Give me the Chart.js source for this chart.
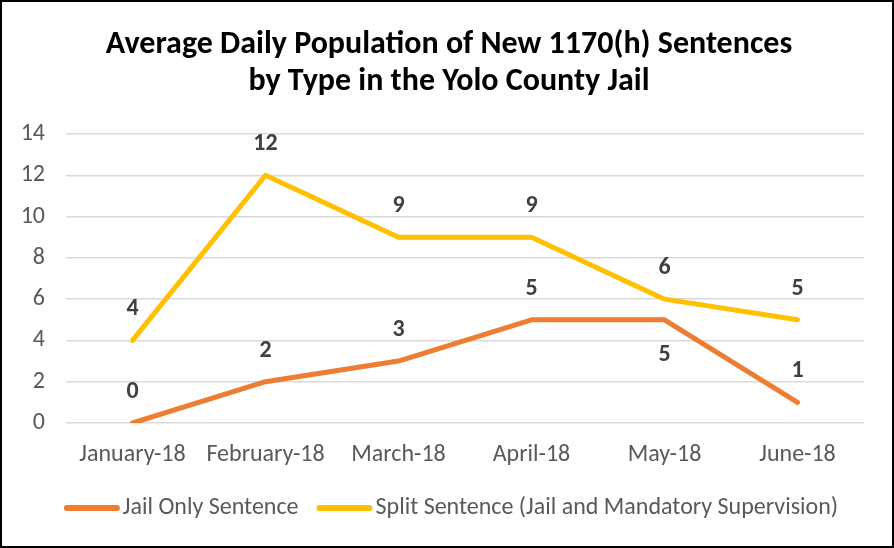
<!DOCTYPE html>
<html>
<head>
<meta charset="utf-8">
<script src="https://cdn.jsdelivr.net/npm/chart.js@4/dist/chart.umd.min.js"></script>
<style>
  html, body { margin: 0; padding: 0; background: #fff; }
  #frame { width: 894px; height: 548px; box-sizing: border-box; border: 2px solid #000; position: relative; }
  #chart { display: block; }
</style>
</head>
<body>
<div id="frame"><canvas id="chart" width="890" height="544"></canvas></div>
<script>
// Yolo County jail - 1170(h) sentences, monthly average daily population

const titleLines = ["Average Daily Population of New 1170(h) Sentences", "by Type in the Yolo County Jail"];
const months = ["January-18", "February-18", "March-18", "April-18", "May-18", "June-18"];
const jailOnly = [0, 2, 3, 5, 5, 1];
const splitSentence = [4, 12, 9, 9, 6, 5];
// where each value label sits relative to its point
const jailLabelPos = ["above", "above", "above", "above", "below", "above"];
const splitLabelPos = ["above", "above", "above", "above", "above", "above"];
const yTicks = [0, 2, 4, 6, 8, 10, 12, 14];

const FONT = "Carlito, Calibri, Lato, sans-serif";
const ORANGE = "#ed7d31";
const GOLD = "#ffc000";
const TEXT = "#595959";

// Title centred on the whole frame (the built-in one centres on the padded box)
const frameTitle = {
  id: "frameTitle",
  afterDraw(chart){
    const {ctx} = chart;
    ctx.save();
    ctx.font = "bold 32px " + FONT;
    ctx.fillStyle = "#000";
    ctx.textAlign = "center";
    ctx.textBaseline = "middle";
    titleLines.forEach((t, i) => ctx.fillText(t, chart.width / 2 + 2, 43 + i * 37));
    ctx.restore();
  }
};

// Draws the bold value labels next to each point
const valueLabels = {
  id: "valueLabels",
  afterDatasetsDraw(chart){
    const {ctx} = chart;
    const positions = [jailLabelPos, splitLabelPos];
    ctx.save();
    ctx.font = "bold 24px " + FONT;
    ctx.fillStyle = "#404040";
    ctx.textAlign = "center";
    ctx.textBaseline = "middle";
    chart.data.datasets.forEach((ds, di) => {
      const meta = chart.getDatasetMeta(di);
      meta.data.forEach((pt, i) => {
        const dy = positions[di][i] === "below" ? 35 : -31;
        ctx.fillText(String(ds.data[i]), pt.x, pt.y + dy);
      });
    });
    ctx.restore();
  }
};

// Excel-style legend: short thick line right against the text
const lineLegend = {
  id: "lineLegend",
  afterDraw(chart){
    const {ctx} = chart;
    const sets = chart.data.datasets;
    const lineW = 56, gapText = 3, gapItem = 18, y = 506;
    ctx.save();
    ctx.font = "24px " + FONT;
    const widths = sets.map(ds => lineW + gapText + ctx.measureText(ds.label).width);
    const total = widths.reduce((a, b) => a + b, 0) + gapItem * (sets.length - 1);
    let x = chart.width / 2 - total / 2 + 4;
    ctx.textBaseline = "middle";
    ctx.textAlign = "left";
    ctx.lineCap = "round";
    sets.forEach((ds, i) => {
      ctx.strokeStyle = ds.borderColor;
      ctx.lineWidth = 6;
      ctx.beginPath();
      ctx.moveTo(x + 3, y);
      ctx.lineTo(x + lineW - 3, y);
      ctx.stroke();
      ctx.fillStyle = TEXT;
      ctx.fillText(ds.label, x + lineW + gapText, y);
      x += widths[i] + gapItem;
    });
    ctx.restore();
  }
};

new Chart(document.getElementById("chart").getContext("2d"), {
  type: "line",
  data: {
    labels: months,
    datasets: [
      {
        label: "Jail Only Sentence",
        data: jailOnly,
        borderColor: ORANGE,
        backgroundColor: ORANGE,
        borderWidth: 5,
        pointRadius: 0,
        borderCapStyle: "round",
        borderJoinStyle: "round",
        tension: 0
      },
      {
        label: "Split Sentence (Jail and Mandatory Supervision)",
        data: splitSentence,
        borderColor: GOLD,
        backgroundColor: GOLD,
        borderWidth: 5,
        pointRadius: 0,
        borderCapStyle: "round",
        borderJoinStyle: "round",
        tension: 0
      }
    ]
  },
  options: {
    responsive: false,
    animation: false,
    layout: { padding: { top: 132, right: 28, left: 0, bottom: 0 } },
    scales: {
      x: {
        offset: true,
        afterFit: (s) => { s.height = 123; },
        grid: { display: false, drawTicks: false },
        border: { display: false },
        ticks: { color: TEXT, font: { family: FONT, size: 24 }, padding: 18, maxRotation: 0, autoSkip: false }
      },
      y: {
        min: 0,
        max: 14,
        afterBuildTicks: (s) => { s.ticks = yTicks.map(v => ({ value: v })); },
        afterFit: (s) => { s.width = 64; },
        grid: { color: "#d9d9d9", lineWidth: 1.5, drawTicks: false },
        border: { display: false },
        ticks: { color: TEXT, font: { family: FONT, size: 24 }, padding: 21 }
      }
    },
    plugins: {
      title: { display: false },
      legend: { display: false },
      tooltip: { enabled: false }
    }
  },
  plugins: [frameTitle, valueLabels, lineLegend]
});
</script>
</body>
</html>
